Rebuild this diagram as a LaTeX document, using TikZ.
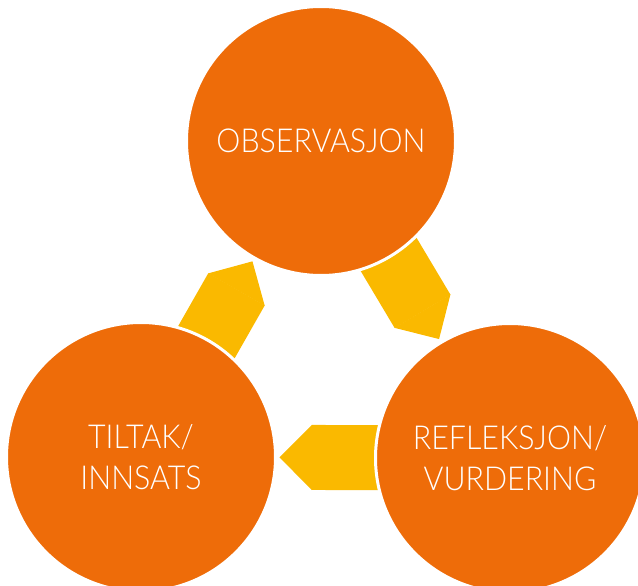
\documentclass[tikz,border=0pt]{standalone}
\usepackage{fontspec}
\newfontfamily\lblfont{Lato Light}[FakeStretch=0.92]
\usetikzlibrary{arrows.meta,backgrounds}
\definecolor{cOrange}{HTML}{EE6C09}
\definecolor{cYellow}{HTML}{FAB900}
\tikzset{
  phase/.style={circle, fill=cOrange, draw=white, line width=3pt, minimum size=269pt,
                inner sep=0pt, outer sep=0pt, text=white, align=center,
                font=\lblfont\fontsize{33}{41}\selectfont},
  turn/.style={draw=cYellow, line width=65pt, line cap=butt,
               -{Triangle[width=0pt 1, length=0pt 0.5, line width=1.2pt]},
               shorten <=-15pt, shorten >=4pt},
}
\begin{document}
\begin{tikzpicture}[x=1pt,y=-1pt]
  \useasboundingbox (0,0) rectangle (638,586);
  \clip (0,0) rectangle (638,586);
  \node[phase] (obs) at (321,141) {OBSERVASJON};
  \node[phase] (til) at (141,457) {TILTAK/\\INNSATS};
  \node[phase] (ref) at (510,458) {REFLEKSJON/\\VURDERING};
  % the cycle: obs -> ref -> til -> obs
  \begin{scope}[on background layer]
    \draw[turn] (obs) -- (ref);
    \draw[turn] (ref) -- (til);
    \draw[turn] (til) -- (obs);
  \end{scope}
\end{tikzpicture}
\end{document}
